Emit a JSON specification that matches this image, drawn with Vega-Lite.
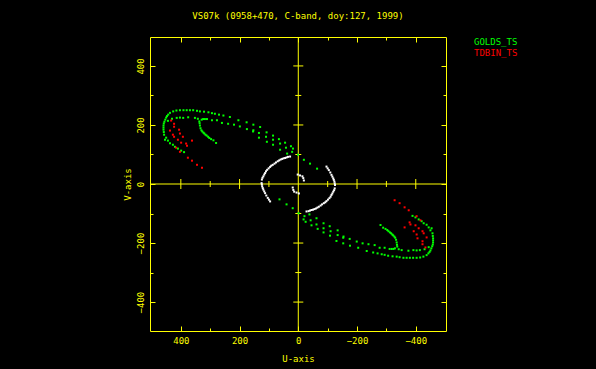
{
"$schema": "https://vega.github.io/schema/vega-lite/v6.json",
"width": 296, "height": 294,
"autosize": {"type": "none"},
"padding": {"left": 150, "top": 37, "right": 150, "bottom": 38},
"background": "#000000",
"config": {"view": {"stroke": "#ffff00", "strokeWidth": 1}, "font": "DejaVu Sans Mono"},
"title": {"text": "VS07k (0958+470, C-band, doy:127, 1999)", "color": "#ffff00", "font": "DejaVu Sans Mono", "fontSize": 9, "fontWeight": "normal", "anchor": "middle", "frame": "group", "offset": 16},
"resolve": {"axis": {"x": "independent", "y": "independent"}},
"datasets": {
"uv": [
{"u":454,"v":150,"s":"GOLDS_TS"},{"u":457,"v":167,"s":"GOLDS_TS"},{"u":458,"v":176,"s":"GOLDS_TS"},{"u":459,"v":184,"s":"GOLDS_TS"},{"u":459,"v":191,"s":"GOLDS_TS"},{"u":459,"v":198,"s":"GOLDS_TS"},{"u":458,"v":205,"s":"GOLDS_TS"},{"u":456,"v":211,"s":"GOLDS_TS"},{"u":453,"v":218,"s":"GOLDS_TS"},{"u":450,"v":225,"s":"GOLDS_TS"},{"u":447,"v":230,"s":"GOLDS_TS"},{"u":443,"v":235,"s":"GOLDS_TS"},{"u":437,"v":241,"s":"GOLDS_TS"},{"u":426,"v":246,"s":"GOLDS_TS"},{"u":415,"v":249,"s":"GOLDS_TS"},{"u":403,"v":250,"s":"GOLDS_TS"},{"u":391,"v":250,"s":"GOLDS_TS"},{"u":380,"v":250,"s":"GOLDS_TS"},{"u":369,"v":250,"s":"GOLDS_TS"},{"u":358,"v":250,"s":"GOLDS_TS"},{"u":345,"v":248,"s":"GOLDS_TS"},{"u":335,"v":246,"s":"GOLDS_TS"},{"u":321,"v":245,"s":"GOLDS_TS"},{"u":306,"v":243,"s":"GOLDS_TS"},{"u":294,"v":240,"s":"GOLDS_TS"},{"u":284,"v":238,"s":"GOLDS_TS"},{"u":270,"v":235,"s":"GOLDS_TS"},{"u":255,"v":232,"s":"GOLDS_TS"},{"u":233,"v":227,"s":"GOLDS_TS"},{"u":204,"v":216,"s":"GOLDS_TS"},{"u":176,"v":209,"s":"GOLDS_TS"},{"u":153,"v":201,"s":"GOLDS_TS"},{"u":130,"v":193,"s":"GOLDS_TS"},{"u":108,"v":175,"s":"GOLDS_TS"},{"u":86,"v":164,"s":"GOLDS_TS"},{"u":66,"v":152,"s":"GOLDS_TS"},{"u":45,"v":140,"s":"GOLDS_TS"},{"u":25,"v":128,"s":"GOLDS_TS"},
{"u":450,"v":157,"s":"GOLDS_TS"},{"u":444,"v":147,"s":"GOLDS_TS"},{"u":437,"v":138,"s":"GOLDS_TS"},{"u":427,"v":133,"s":"GOLDS_TS"},{"u":420,"v":126,"s":"GOLDS_TS"},{"u":410,"v":120,"s":"GOLDS_TS"},{"u":399,"v":113,"s":"GOLDS_TS"},{"u":389,"v":108,"s":"GOLDS_TS"},
{"u":444,"v":214,"s":"GOLDS_TS"},{"u":430,"v":221,"s":"GOLDS_TS"},{"u":414,"v":224,"s":"GOLDS_TS"},{"u":403,"v":225,"s":"GOLDS_TS"},{"u":392,"v":224,"s":"GOLDS_TS"},{"u":375,"v":226,"s":"GOLDS_TS"},{"u":352,"v":224,"s":"GOLDS_TS"},{"u":342,"v":221,"s":"GOLDS_TS"},{"u":324,"v":220,"s":"GOLDS_TS"},{"u":311,"v":220,"s":"GOLDS_TS"},{"u":294,"v":216,"s":"GOLDS_TS"},{"u":277,"v":216,"s":"GOLDS_TS"},{"u":260,"v":207,"s":"GOLDS_TS"},{"u":239,"v":204,"s":"GOLDS_TS"},{"u":219,"v":201,"s":"GOLDS_TS"},{"u":199,"v":195,"s":"GOLDS_TS"},{"u":175,"v":186,"s":"GOLDS_TS"},{"u":154,"v":178,"s":"GOLDS_TS"},{"u":134,"v":173,"s":"GOLDS_TS"},{"u":110,"v":160,"s":"GOLDS_TS"},{"u":86,"v":150,"s":"GOLDS_TS"},{"u":62,"v":137,"s":"GOLDS_TS"},{"u":42,"v":123,"s":"GOLDS_TS"},{"u":21,"v":109,"s":"GOLDS_TS"},{"u":1,"v":99,"s":"GOLDS_TS"},{"u":-19,"v":82,"s":"GOLDS_TS"},{"u":-40,"v":69,"s":"GOLDS_TS"},{"u":-64,"v":52,"s":"GOLDS_TS"},
{"u":337,"v":212,"s":"GOLDS_TS"},{"u":336,"v":206,"s":"GOLDS_TS"},{"u":335,"v":198,"s":"GOLDS_TS"},{"u":333,"v":189,"s":"GOLDS_TS"},{"u":330,"v":182,"s":"GOLDS_TS"},{"u":327,"v":178,"s":"GOLDS_TS"},{"u":323,"v":174,"s":"GOLDS_TS"},{"u":320,"v":171,"s":"GOLDS_TS"},{"u":316,"v":167,"s":"GOLDS_TS"},{"u":312,"v":164,"s":"GOLDS_TS"},{"u":307,"v":160,"s":"GOLDS_TS"},{"u":303,"v":156,"s":"GOLDS_TS"},{"u":297,"v":152,"s":"GOLDS_TS"},{"u":289,"v":148,"s":"GOLDS_TS"},{"u":280,"v":139,"s":"GOLDS_TS"},{"u":329,"v":218,"s":"GOLDS_TS"},{"u":318,"v":220,"s":"GOLDS_TS"},
{"u":134,"v":157,"s":"GOLDS_TS"},{"u":107,"v":143,"s":"GOLDS_TS"},{"u":86,"v":133,"s":"GOLDS_TS"},{"u":62,"v":116,"s":"GOLDS_TS"},{"u":38,"v":103,"s":"GOLDS_TS"},{"u":153,"v":182,"s":"GOLDS_TS"},{"u":18,"v":120,"s":"GOLDS_TS"},
{"u":-454,"v":-150,"s":"GOLDS_TS"},{"u":-457,"v":-167,"s":"GOLDS_TS"},{"u":-458,"v":-176,"s":"GOLDS_TS"},{"u":-459,"v":-184,"s":"GOLDS_TS"},{"u":-459,"v":-191,"s":"GOLDS_TS"},{"u":-459,"v":-198,"s":"GOLDS_TS"},{"u":-458,"v":-205,"s":"GOLDS_TS"},{"u":-456,"v":-211,"s":"GOLDS_TS"},{"u":-453,"v":-218,"s":"GOLDS_TS"},{"u":-450,"v":-225,"s":"GOLDS_TS"},{"u":-447,"v":-230,"s":"GOLDS_TS"},{"u":-443,"v":-235,"s":"GOLDS_TS"},{"u":-437,"v":-241,"s":"GOLDS_TS"},{"u":-426,"v":-246,"s":"GOLDS_TS"},{"u":-415,"v":-249,"s":"GOLDS_TS"},{"u":-403,"v":-250,"s":"GOLDS_TS"},{"u":-391,"v":-250,"s":"GOLDS_TS"},{"u":-380,"v":-250,"s":"GOLDS_TS"},{"u":-369,"v":-250,"s":"GOLDS_TS"},{"u":-358,"v":-250,"s":"GOLDS_TS"},{"u":-345,"v":-248,"s":"GOLDS_TS"},{"u":-335,"v":-246,"s":"GOLDS_TS"},{"u":-321,"v":-245,"s":"GOLDS_TS"},{"u":-306,"v":-243,"s":"GOLDS_TS"},{"u":-294,"v":-240,"s":"GOLDS_TS"},{"u":-284,"v":-238,"s":"GOLDS_TS"},{"u":-270,"v":-235,"s":"GOLDS_TS"},{"u":-255,"v":-232,"s":"GOLDS_TS"},{"u":-233,"v":-227,"s":"GOLDS_TS"},{"u":-204,"v":-216,"s":"GOLDS_TS"},{"u":-176,"v":-209,"s":"GOLDS_TS"},{"u":-153,"v":-201,"s":"GOLDS_TS"},{"u":-130,"v":-193,"s":"GOLDS_TS"},{"u":-108,"v":-175,"s":"GOLDS_TS"},{"u":-86,"v":-164,"s":"GOLDS_TS"},{"u":-66,"v":-152,"s":"GOLDS_TS"},{"u":-45,"v":-140,"s":"GOLDS_TS"},{"u":-25,"v":-128,"s":"GOLDS_TS"},
{"u":-450,"v":-157,"s":"GOLDS_TS"},{"u":-444,"v":-147,"s":"GOLDS_TS"},{"u":-437,"v":-138,"s":"GOLDS_TS"},{"u":-427,"v":-133,"s":"GOLDS_TS"},{"u":-420,"v":-126,"s":"GOLDS_TS"},{"u":-410,"v":-120,"s":"GOLDS_TS"},{"u":-399,"v":-113,"s":"GOLDS_TS"},{"u":-389,"v":-108,"s":"GOLDS_TS"},
{"u":-444,"v":-214,"s":"GOLDS_TS"},{"u":-430,"v":-221,"s":"GOLDS_TS"},{"u":-414,"v":-224,"s":"GOLDS_TS"},{"u":-403,"v":-225,"s":"GOLDS_TS"},{"u":-392,"v":-224,"s":"GOLDS_TS"},{"u":-375,"v":-226,"s":"GOLDS_TS"},{"u":-352,"v":-224,"s":"GOLDS_TS"},{"u":-342,"v":-221,"s":"GOLDS_TS"},{"u":-324,"v":-220,"s":"GOLDS_TS"},{"u":-311,"v":-220,"s":"GOLDS_TS"},{"u":-294,"v":-216,"s":"GOLDS_TS"},{"u":-277,"v":-216,"s":"GOLDS_TS"},{"u":-260,"v":-207,"s":"GOLDS_TS"},{"u":-239,"v":-204,"s":"GOLDS_TS"},{"u":-219,"v":-201,"s":"GOLDS_TS"},{"u":-199,"v":-195,"s":"GOLDS_TS"},{"u":-175,"v":-186,"s":"GOLDS_TS"},{"u":-154,"v":-178,"s":"GOLDS_TS"},{"u":-134,"v":-173,"s":"GOLDS_TS"},{"u":-110,"v":-160,"s":"GOLDS_TS"},{"u":-86,"v":-150,"s":"GOLDS_TS"},{"u":-62,"v":-137,"s":"GOLDS_TS"},{"u":-42,"v":-123,"s":"GOLDS_TS"},{"u":-21,"v":-109,"s":"GOLDS_TS"},{"u":-1,"v":-99,"s":"GOLDS_TS"},{"u":19,"v":-82,"s":"GOLDS_TS"},{"u":40,"v":-69,"s":"GOLDS_TS"},{"u":64,"v":-52,"s":"GOLDS_TS"},
{"u":-337,"v":-212,"s":"GOLDS_TS"},{"u":-336,"v":-206,"s":"GOLDS_TS"},{"u":-335,"v":-198,"s":"GOLDS_TS"},{"u":-333,"v":-189,"s":"GOLDS_TS"},{"u":-330,"v":-182,"s":"GOLDS_TS"},{"u":-327,"v":-178,"s":"GOLDS_TS"},{"u":-323,"v":-174,"s":"GOLDS_TS"},{"u":-320,"v":-171,"s":"GOLDS_TS"},{"u":-316,"v":-167,"s":"GOLDS_TS"},{"u":-312,"v":-164,"s":"GOLDS_TS"},{"u":-307,"v":-160,"s":"GOLDS_TS"},{"u":-303,"v":-156,"s":"GOLDS_TS"},{"u":-297,"v":-152,"s":"GOLDS_TS"},{"u":-289,"v":-148,"s":"GOLDS_TS"},{"u":-280,"v":-139,"s":"GOLDS_TS"},{"u":-329,"v":-218,"s":"GOLDS_TS"},{"u":-318,"v":-220,"s":"GOLDS_TS"},
{"u":-134,"v":-157,"s":"GOLDS_TS"},{"u":-107,"v":-143,"s":"GOLDS_TS"},{"u":-86,"v":-133,"s":"GOLDS_TS"},{"u":-62,"v":-116,"s":"GOLDS_TS"},{"u":-38,"v":-103,"s":"GOLDS_TS"},{"u":-153,"v":-182,"s":"GOLDS_TS"},{"u":-18,"v":-120,"s":"GOLDS_TS"},
{"u":433,"v":215,"s":"TDBIN_TS"},{"u":423,"v":204,"s":"TDBIN_TS"},{"u":437,"v":181,"s":"TDBIN_TS"},{"u":427,"v":167,"s":"TDBIN_TS"},{"u":423,"v":160,"s":"TDBIN_TS"},{"u":406,"v":184,"s":"TDBIN_TS"},{"u":403,"v":171,"s":"TDBIN_TS"},{"u":393,"v":160,"s":"TDBIN_TS"},{"u":399,"v":140,"s":"TDBIN_TS"},{"u":416,"v":123,"s":"TDBIN_TS"},{"u":403,"v":109,"s":"TDBIN_TS"},{"u":382,"v":137,"s":"TDBIN_TS"},{"u":379,"v":130,"s":"TDBIN_TS"},{"u":362,"v":147,"s":"TDBIN_TS"},{"u":376,"v":89,"s":"TDBIN_TS"},{"u":362,"v":79,"s":"TDBIN_TS"},{"u":345,"v":65,"s":"TDBIN_TS"},{"u":328,"v":55,"s":"TDBIN_TS"},{"u":423,"v":194,"s":"TDBIN_TS"},{"u":410,"v":150,"s":"TDBIN_TS"},
{"u":-433,"v":-215,"s":"TDBIN_TS"},{"u":-423,"v":-204,"s":"TDBIN_TS"},{"u":-437,"v":-181,"s":"TDBIN_TS"},{"u":-427,"v":-167,"s":"TDBIN_TS"},{"u":-423,"v":-160,"s":"TDBIN_TS"},{"u":-406,"v":-184,"s":"TDBIN_TS"},{"u":-403,"v":-171,"s":"TDBIN_TS"},{"u":-393,"v":-160,"s":"TDBIN_TS"},{"u":-399,"v":-140,"s":"TDBIN_TS"},{"u":-416,"v":-123,"s":"TDBIN_TS"},{"u":-403,"v":-109,"s":"TDBIN_TS"},{"u":-382,"v":-137,"s":"TDBIN_TS"},{"u":-379,"v":-130,"s":"TDBIN_TS"},{"u":-362,"v":-147,"s":"TDBIN_TS"},{"u":-376,"v":-89,"s":"TDBIN_TS"},{"u":-362,"v":-79,"s":"TDBIN_TS"},{"u":-345,"v":-65,"s":"TDBIN_TS"},{"u":-328,"v":-55,"s":"TDBIN_TS"},{"u":-423,"v":-194,"s":"TDBIN_TS"},{"u":-410,"v":-150,"s":"TDBIN_TS"},
{"u":96,"v":-59,"s":"other"},{"u":100,"v":-53,"s":"other"},{"u":104,"v":-47,"s":"other"},{"u":109,"v":-39,"s":"other"},{"u":113,"v":-31,"s":"other"},{"u":116,"v":-25,"s":"other"},{"u":119,"v":-19,"s":"other"},{"u":121,"v":-14,"s":"other"},{"u":123,"v":-8,"s":"other"},{"u":124,"v":-2,"s":"other"},{"u":125,"v":3,"s":"other"},{"u":124,"v":15,"s":"other"},{"u":122,"v":21,"s":"other"},{"u":119,"v":26,"s":"other"},{"u":116,"v":32,"s":"other"},{"u":113,"v":37,"s":"other"},{"u":110,"v":43,"s":"other"},{"u":106,"v":48,"s":"other"},{"u":101,"v":53,"s":"other"},{"u":96,"v":58,"s":"other"},{"u":92,"v":62,"s":"other"},{"u":87,"v":65,"s":"other"},{"u":81,"v":69,"s":"other"},{"u":76,"v":73,"s":"other"},{"u":70,"v":77,"s":"other"},{"u":65,"v":80,"s":"other"},{"u":60,"v":83,"s":"other"},{"u":55,"v":85,"s":"other"},{"u":50,"v":87,"s":"other"},{"u":45,"v":88,"s":"other"},{"u":40,"v":90,"s":"other"},{"u":35,"v":92,"s":"other"},{"u":28,"v":93,"s":"other"},
{"u":-96,"v":59,"s":"other"},{"u":-100,"v":53,"s":"other"},{"u":-104,"v":47,"s":"other"},{"u":-109,"v":39,"s":"other"},{"u":-113,"v":31,"s":"other"},{"u":-116,"v":25,"s":"other"},{"u":-119,"v":19,"s":"other"},{"u":-121,"v":14,"s":"other"},{"u":-123,"v":8,"s":"other"},{"u":-124,"v":2,"s":"other"},{"u":-125,"v":-3,"s":"other"},{"u":-124,"v":-15,"s":"other"},{"u":-122,"v":-21,"s":"other"},{"u":-119,"v":-26,"s":"other"},{"u":-116,"v":-32,"s":"other"},{"u":-113,"v":-37,"s":"other"},{"u":-110,"v":-43,"s":"other"},{"u":-106,"v":-48,"s":"other"},{"u":-101,"v":-53,"s":"other"},{"u":-96,"v":-58,"s":"other"},{"u":-92,"v":-62,"s":"other"},{"u":-87,"v":-65,"s":"other"},{"u":-81,"v":-69,"s":"other"},{"u":-76,"v":-73,"s":"other"},{"u":-70,"v":-77,"s":"other"},{"u":-65,"v":-80,"s":"other"},{"u":-60,"v":-83,"s":"other"},{"u":-55,"v":-85,"s":"other"},{"u":-50,"v":-87,"s":"other"},{"u":-45,"v":-88,"s":"other"},{"u":-40,"v":-90,"s":"other"},{"u":-35,"v":-92,"s":"other"},{"u":-28,"v":-93,"s":"other"},
{"u":2,"v":32,"s":"other"},{"u":-6,"v":29,"s":"other"},{"u":-14,"v":26,"s":"other"},{"u":-17,"v":20,"s":"other"},{"u":-19,"v":12,"s":"other"},
{"u":-2,"v":-32,"s":"other"},{"u":6,"v":-29,"s":"other"},{"u":14,"v":-26,"s":"other"},{"u":17,"v":-20,"s":"other"},{"u":19,"v":-12,"s":"other"}
],
"ticks": [{"t":-400},{"t":-300},{"t":-200},{"t":-100},{"t":100},{"t":200},{"t":300},{"t":400}],
"origin": [{"o":0}]
},
"layer": [
{
"data": {"name": "origin"},
"mark": {"type": "rule", "color": "#ffff00", "strokeWidth": 1},
"encoding": {
"x": {"field": "o", "type": "quantitative", "scale": {"domain": [-503, 505], "reverse": true, "nice": false, "zero": false},
"axis": {"orient": "top", "values": [-400,-300,-200,-100,0,100,200,300,400], "title": null, "labels": false, "domain": false, "grid": false, "tickColor": "#ffff00", "tickWidth": 1, "tickSize": {"condition": {"test": "datum.value % 200 === 0", "value": -5}, "value": -3}}}
}
},
{
"data": {"name": "origin"},
"mark": {"type": "rule", "color": "#ffff00", "strokeWidth": 1},
"encoding": {
"y": {"field": "o", "type": "quantitative", "scale": {"domain": [-498, 498], "nice": false, "zero": false},
"axis": {"orient": "right", "values": [-400,-300,-200,-100,0,100,200,300,400], "title": null, "labels": false, "domain": false, "grid": false, "tickColor": "#ffff00", "tickWidth": 1, "tickSize": {"condition": {"test": "datum.value % 200 === 0", "value": -5}, "value": -3}}}
}
},
{
"data": {"name": "ticks"},
"mark": {"type": "tick", "orient": "vertical", "color": "#ffff00", "thickness": 1, "opacity": 1},
"encoding": {
"x": {"field": "t", "type": "quantitative", "axis": null},
"y": {"datum": 0, "type": "quantitative", "axis": null},
"size": {"condition": {"test": "datum.t % 200 === 0", "value": 10}, "value": 6}
}
},
{
"data": {"name": "ticks"},
"mark": {"type": "tick", "orient": "horizontal", "color": "#ffff00", "thickness": 1, "opacity": 1},
"encoding": {
"y": {"field": "t", "type": "quantitative", "axis": null},
"x": {"datum": 0, "type": "quantitative", "axis": null},
"size": {"condition": {"test": "datum.t % 200 === 0", "value": 10}, "value": 6}
}
},
{
"data": {"name": "uv"},
"mark": {"type": "square", "size": 4, "opacity": 1},
"encoding": {
"x": {"field": "u", "type": "quantitative", "scale": {"domain": [-503, 505], "reverse": true, "nice": false, "zero": false},
"axis": {"orient": "bottom", "values": [-400,-300,-200,-100,0,100,200,300,400], "title": "U-axis", "domain": false, "grid": false,
"tickColor": "#ffff00", "tickWidth": 1, "tickSize": {"condition": {"test": "datum.value % 200 === 0", "value": -5}, "value": -3},
"labelExpr": "datum.value % 200 === 0 ? datum.label : ''", "labelColor": "#ffff00", "labelFont": "DejaVu Sans Mono", "labelFontSize": 9, "labelPadding": 10, "labelFlush": false,
"titleColor": "#ffff00", "titleFont": "DejaVu Sans Mono", "titleFontSize": 9, "titleFontWeight": "normal", "titlePadding": 9}},
"y": {"field": "v", "type": "quantitative", "scale": {"domain": [-498, 498], "nice": false, "zero": false},
"axis": {"orient": "left", "values": [-400,-300,-200,-100,0,100,200,300,400], "title": "V-axis", "domain": false, "grid": false,
"tickColor": "#ffff00", "tickWidth": 1, "tickSize": {"condition": {"test": "datum.value % 200 === 0", "value": -5}, "value": -3},
"labelExpr": "datum.value % 200 === 0 ? datum.label : ''", "labelColor": "#ffff00", "labelFont": "DejaVu Sans Mono", "labelFontSize": 9, "labelPadding": 10, "labelAngle": 270, "labelAlign": "center", "labelBaseline": "bottom", "labelFlush": false,
"titleColor": "#ffff00", "titleFont": "DejaVu Sans Mono", "titleFontSize": 9, "titleFontWeight": "normal", "titlePadding": 4}},
"color": {"field": "s", "type": "nominal", "scale": {"domain": ["GOLDS_TS", "TDBIN_TS", "other"], "range": ["#00ff00", "#ff0000", "#ffffff"]},
"legend": {"orient": "none", "legendX": 315, "legendY": 0, "values": ["GOLDS_TS", "TDBIN_TS"], "title": null, "symbolSize": 0, "symbolStrokeWidth": 0, "symbolOpacity": 0, "labelOffset": 0, "labelFont": "DejaVu Sans Mono", "labelFontSize": 9, "padding": 0, "rowPadding": 1,
"encode": {"labels": {"update": {"fill": {"scale": "color", "field": "value"}}}}}}
}
}
]
}
